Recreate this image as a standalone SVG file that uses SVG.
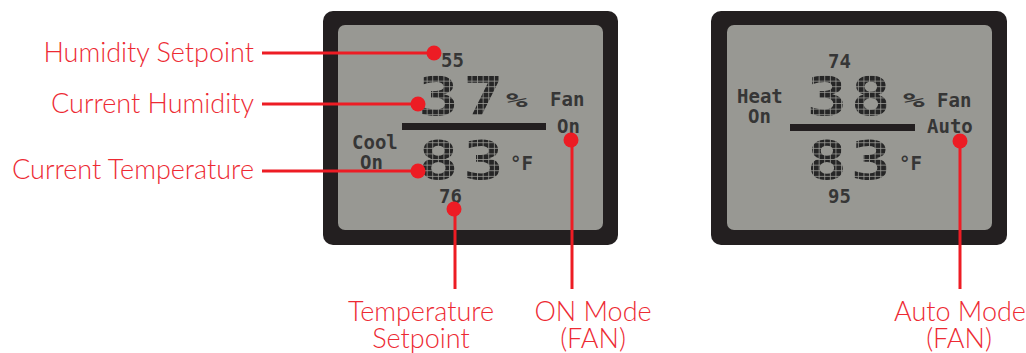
<svg xmlns="http://www.w3.org/2000/svg" width="1026" height="353" viewBox="0 0 1026 353">
  <style>
    .frame { fill: #231f20; }
    .lcd { fill: #989893; }
    .bar { fill: #231f20; }
    .big { font-family: "DejaVu Sans Mono", "Liberation Mono", monospace; font-weight: bold; font-size: 53.5px; text-anchor: middle; fill: url(#dots); }
    .sm { font-family: "DejaVu Sans Mono", "Liberation Mono", monospace; font-weight: bold; font-size: 19px; fill: #363636; }
    .pct { font-family: "DejaVu Sans Mono", "Liberation Mono", monospace; font-weight: bold; font-size: 20px; fill: #363636; }
    .lbl { font-family: Lato, "Open Sans", sans-serif; font-weight: 300; font-size: 27px; fill: #ed2a33; }
    .ln { stroke: #ed1c24; stroke-width: 3; fill: none; }
    .dot { fill: #ed1c24; }
  </style>
  <defs>
    <pattern id="dots" patternUnits="userSpaceOnUse" x="337.6" y="76" width="4.48" height="5.6">
      <rect x="0" y="0" width="3.84" height="4.8" fill="#262626"/>
    </pattern>
  </defs>

  <g id="display-left">
    <rect class="frame" x="323" y="11" width="295" height="234" rx="10"/>
    <rect class="lcd" x="338" y="25" width="265" height="205" rx="7"/>
    <rect class="bar" x="402" y="123" width="144" height="7"/>
    <g transform="scale(1.25,1)">
      <text class="big" x="350.8" y="115">3</text>
      <text class="big" x="386.8" y="115">7</text>
      <text class="big" x="350.8" y="179">8</text>
      <text class="big" x="386.8" y="179">3</text>
    </g>
    <text class="sm" x="441" y="67">55</text>
    <text class="pct" transform="translate(506,107) scale(1.8,1)">%</text>
    <text class="sm" x="550" y="106">Fan</text>
    <text class="sm" x="557" y="133">On</text>
    <text class="sm" x="352" y="149">Cool</text>
    <text class="sm" x="360" y="169">On</text>
    <text class="sm" x="510" y="170">°F</text>
    <text class="sm" x="439" y="203">76</text>
  </g>

  <g id="display-right">
    <rect class="frame" x="711" y="11" width="296" height="234" rx="10"/>
    <rect class="lcd" x="727" y="25" width="265" height="205" rx="7"/>
    <rect class="bar" x="790" y="124" width="125" height="7"/>
    <g transform="scale(1.25,1)">
      <text class="big" x="661.6" y="115">3</text>
      <text class="big" x="696.8" y="115">8</text>
      <text class="big" x="661.6" y="179">8</text>
      <text class="big" x="696.8" y="179">3</text>
    </g>
    <text class="sm" x="828" y="68">74</text>
    <text class="sm" x="737" y="103">Heat</text>
    <text class="sm" x="748" y="123">On</text>
    <text class="pct" transform="translate(903,107) scale(1.8,1)">%</text>
    <text class="sm" x="937" y="107">Fan</text>
    <text class="sm" x="927" y="133">Auto</text>
    <text class="sm" x="899" y="170">°F</text>
    <text class="sm" x="828" y="203">95</text>
  </g>

  <g id="connectors">
    <line class="ln" x1="262" y1="53" x2="434" y2="53"/>
    <line class="ln" x1="262" y1="104" x2="418" y2="104"/>
    <line class="ln" x1="262" y1="171" x2="418" y2="171"/>
    <line class="ln" x1="455" y1="209" x2="455" y2="289"/>
    <line class="ln" x1="572" y1="140" x2="572" y2="289"/>
    <line class="ln" x1="960" y1="141" x2="960" y2="289"/>
    <circle class="dot" cx="434" cy="53" r="7.5"/>
    <circle class="dot" cx="418" cy="104" r="7.5"/>
    <circle class="dot" cx="418" cy="171" r="7.5"/>
    <circle class="dot" cx="454" cy="209" r="7.5"/>
    <circle class="dot" cx="571" cy="140" r="7.5"/>
    <circle class="dot" cx="960" cy="141" r="7.5"/>
  </g>

  <g id="labels">
    <text class="lbl" x="254" y="62" text-anchor="end">Humidity Setpoint</text>
    <text class="lbl" x="254" y="113" text-anchor="end">Current Humidity</text>
    <text class="lbl" x="254" y="179" text-anchor="end">Current Temperature</text>
    <text class="lbl" x="421" y="321" text-anchor="middle">Temperature</text>
    <text class="lbl" x="421" y="348" text-anchor="middle">Setpoint</text>
    <text class="lbl" x="593" y="321" text-anchor="middle">ON Mode</text>
    <text class="lbl" x="593" y="348" text-anchor="middle">(FAN)</text>
    <text class="lbl" x="960" y="321" text-anchor="middle">Auto Mode</text>
    <text class="lbl" x="959" y="348" text-anchor="middle">(FAN)</text>
  </g>
</svg>
